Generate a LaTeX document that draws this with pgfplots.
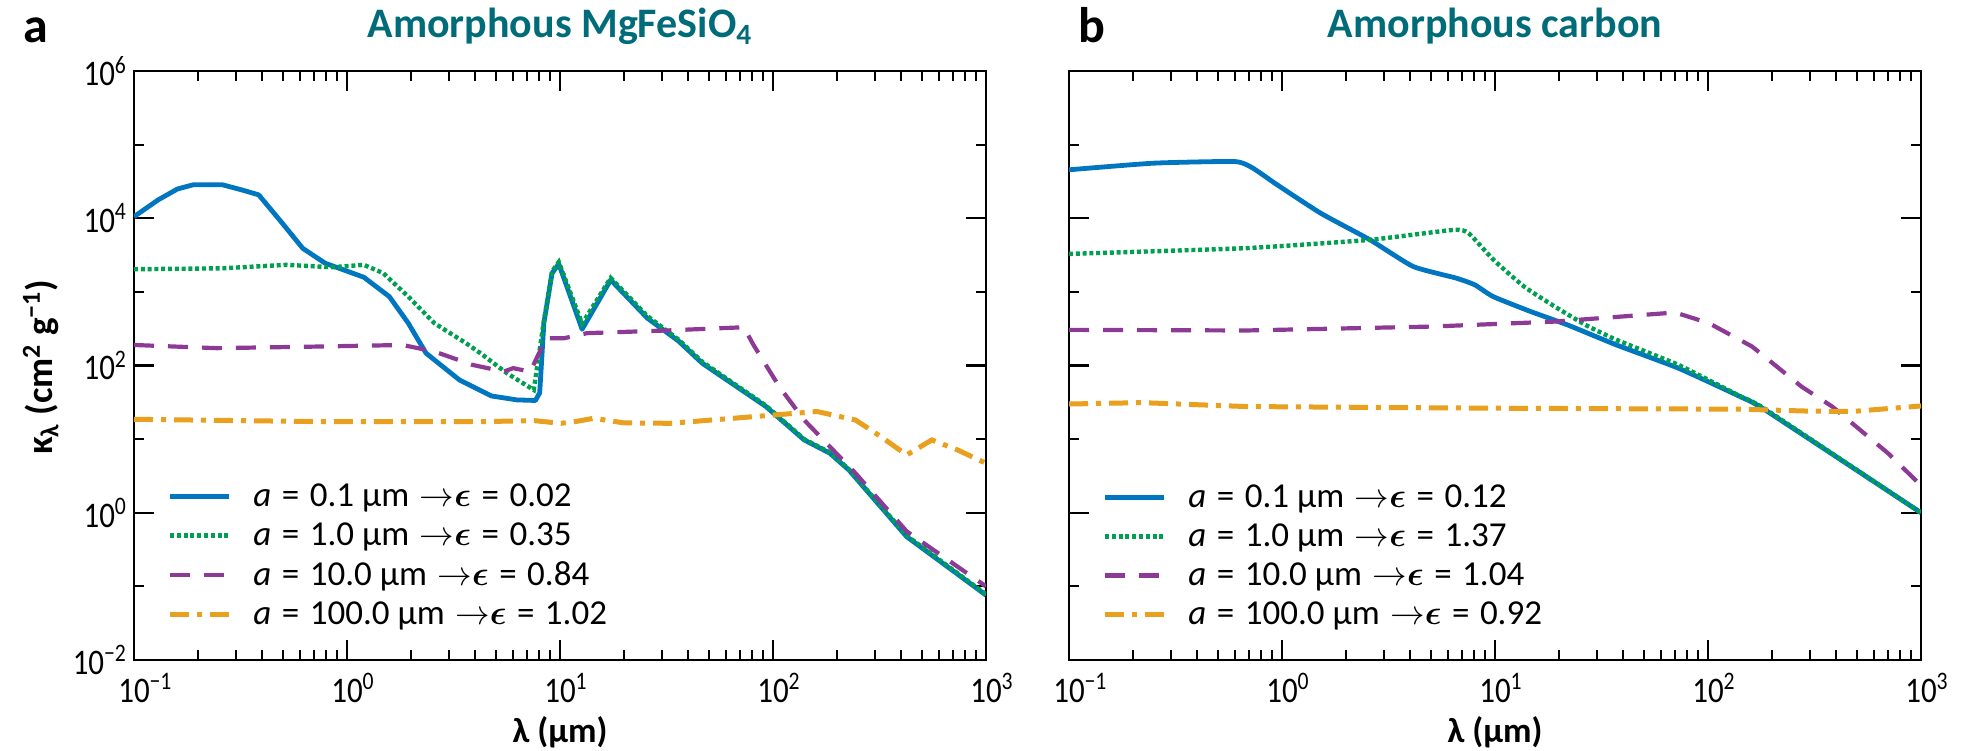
\documentclass[border=0pt]{standalone}
\usepackage{amsmath}
\usepackage{fontspec}
\setmainfont{Carlito}
\newfontfamily\condfont{Carlito}[FakeStretch=0.86]
\usepackage{pgfplots}
\pgfplotsset{compat=1.18}

\definecolor{cblue}{RGB}{0,118,192}
\definecolor{cgreen}{RGB}{0,160,80}
\definecolor{cpurple}{RGB}{140,58,150}
\definecolor{corange}{RGB}{232,160,30}
\definecolor{cteal}{RGB}{0,108,122}

\newcommand{\eqs}{\hspace{0.3em}=\hspace{0.3em}}
\newcommand{\arr}{\hspace{0.3em}${\rightarrow}{\boldsymbol{\epsilon}}$}
\newcommand{\tlx}[1]{{\condfont\fontsize{18}{20}\selectfont 10\rlap{\textsuperscript{#1}}}}
\newcommand{\tly}[1]{{\condfont\fontsize{18}{20}\selectfont 10\textsuperscript{#1}}}

\tikzset{
  sblue/.style={cblue, line width=2.4pt, line join=round},
  sgreen/.style={cgreen, line width=2.2pt, dash pattern=on 2pt off 1.4pt},
  spurple/.style={cpurple, line width=2.1pt, dash pattern=on 10pt off 7pt},
  sorange/.style={corange, line width=2.5pt, dash pattern=on 9.5pt off 4pt on 2.5pt off 4pt},
}
\pgfplotsset{
  every axis/.append style={
    scale only axis, width=426pt, height=294.5pt,
    xmin=0.1, xmax=1000, ymin=1e-2, ymax=1e6,
    xtick={0.1,1,10,100,1000},
    xticklabels={\tlx{−1},\tlx{0},\tlx{1},\tlx{2},\tlx{3}},
    minor xtick={0.2,0.3,0.4,0.5,0.6,0.7,0.8,0.9,2,3,4,5,6,7,8,9,20,30,40,50,60,70,80,90,200,300,400,500,600,700,800,900},
    ytick={1e-2,1,1e2,1e4,1e6},
    minor ytick={1e-1,1e1,1e3,1e5},
    tick align=inside,
    major tick length=10pt, minor tick length=5pt,
    axis line style={line width=1.3pt},
    tick style={black, line width=1.1pt},
    xticklabel style={anchor=base, yshift=-21pt},
    xlabel style={font=\bfseries\fontsize{17.5}{20}\selectfont, at={(axis description cs:0.5,-0.1409)}, anchor=base},
    title style={font=\bfseries\fontsize{21}{24}\selectfont, text=cteal, at={(axis description cs:0.5,1.0357)}, anchor=base},
    legend cell align=left,
    legend style={draw=none, fill=none, inner sep=0pt, column sep=9pt, row sep=2.6pt,
      font=\fontsize{17.5}{19}\selectfont, anchor=south west,
      at={(axis description cs:0.0388,0.048)}},
  },
  legend image code/.code={\draw[#1] (0pt,0pt) -- (29.5pt,0pt);},
}

\begin{document}
\begin{tikzpicture}
\path[use as bounding box] (-67pt,-45pt) rectangle (917pt,330pt);

\begin{loglogaxis}[name=L, at={(0pt,0pt)}, anchor=south west,
  yticklabels={\tly{−2},\tly{0},\tly{2},\tly{4},\tly{6}},
  xlabel={λ (μm)},
  ylabel={κ\textsubscript{λ} (cm\textsuperscript{2} g\textsuperscript{−1})},
  ylabel style={font=\bfseries\fontsize{18.5}{22}\selectfont, at={(axis description cs:-0.1093,0.497)}, anchor=center},
  title={Amorphous MgFeSiO\textsubscript{4}}]
\addplot[sblue] coordinates {
(0.1,10500) (0.13,17800) (0.16,25000) (0.19,28500) (0.26,28500) (0.32,24300) (0.385,20800)
(0.49,9000) (0.62,3900) (0.79,2450) (1.2,1580) (1.58,863) (1.94,376) (2.35,147)
(3.37,63.7) (4.76,38.6) (6.28,34.1) (7.67,33.5) (8.03,42.5) (8.4,376) (9.18,1795)
(9.87,2400) (12.7,311) (17.3,1455) (25.7,440) (36,215) (46.6,107) (92.7,27.7)
(140,9.75) (185,6.43) (227,3.82) (424,0.474) (1000,0.076)};
\addlegendentry{\textit{a}\eqs 0.1 μm\arr\eqs 0.02}
\addplot[sgreen] coordinates {
(0.1,2030) (0.26,2090) (0.52,2330) (0.85,2160) (1.2,2330) (1.48,1795) (1.94,863)
(2.57,376) (3.62,201) (4.23,147) (5.64,78.5) (7.53,46.6) (8.4,400) (9.18,1900)
(9.87,2550) (12.7,370) (17.3,1550) (25.7,470) (36,225) (46.6,112) (92.7,28.5)
(140,10) (185,6.6) (227,3.9) (424,0.49) (1000,0.078)};
\addlegendentry{\textit{a}\eqs 1.0 μm\arr\eqs 0.35}
\addplot[spurple] coordinates {
(0.1,190) (0.245,172) (0.74,181) (1.82,190) (2.57,155) (3.88,102) (5.44,82.6)
(6.03,92) (7.25,82.6) (8.1,162) (8.55,234) (10.4,234) (13.4,275) (31.7,299)
(73,331) (81,190) (107,51.6) (140,18.2) (244,3.44) (424,0.56) (1000,0.1)};
\addlegendentry{\textit{a}\eqs 10.0 μm\arr\eqs 0.84}
\addplot[sorange] coordinates {
(0.1,18.6) (0.74,17.3) (4.23,17.3) (7.6,17.8) (10.1,16.4) (11.8,17.3) (14.4,19.2)
(20,16.6) (33,16.4) (81,20.2) (161,23.7) (244,18.2) (321,10.8) (424,6.1)
(557,9.75) (735,7.13) (1000,4.71)};
\addlegendentry{\textit{a}\eqs 100.0 μm\arr\eqs 1.02}
\end{loglogaxis}

\begin{loglogaxis}[name=R, at={(467.5pt,0pt)}, anchor=south west,
  yticklabels={},
  xlabel={λ (μm)},
  title={Amorphous carbon}]
\addplot[sblue, smooth, tension=0.3] coordinates {
(0.1,45500) (0.25,56000) (0.6,58900) (0.73,47900) (0.95,28400) (1.52,11700)
(2.59,5090) (4.13,2210) (6.59,1535) (8.04,1245) (9.8,863) (14.7,541) (21.9,356)
(37.2,190) (72.6,92) (141,38) (185,25) (1000,1.0)};
\addlegendentry{\textit{a}\eqs 0.1 μm\arr\eqs 0.12}
\addplot[sgreen, smooth, tension=0.3] coordinates {
(0.1,3280) (0.68,3930) (2.58,5090) (6.37,6950) (7.52,6270) (9.84,2720) (13.7,1180)
(19.1,631) (26.6,356) (37.2,223) (72.6,102) (141,38.5) (185,25.7) (1000,1.0)};
\addlegendentry{\textit{a}\eqs 1.0 μm\arr\eqs 1.37}
\addplot[spurple] coordinates {
(0.1,305) (0.68,299) (5.05,338) (19.1,395) (70.1,525) (101,376) (161,181)
(275,51.6) (383,27.7) (700,6.43) (1000,2.35)};
\addlegendentry{\textit{a}\eqs 10.0 μm\arr\eqs 1.04}
\addplot[sorange] coordinates {
(0.1,30) (0.22,31.3) (0.68,27.7) (9.84,26.3) (141,25.5) (300,24) (470,23.7) (1000,28.2)};
\addlegendentry{\textit{a}\eqs 100.0 μm\arr\eqs 0.92}
\end{loglogaxis}

\node[font=\bfseries\fontsize{25}{28}\selectfont, anchor=base west] at ([xshift=-59pt,yshift=14pt]L.north west) {a};
\node[font=\bfseries\fontsize{25}{28}\selectfont, anchor=base west] at ([xshift=1pt,yshift=14pt]R.north west) {b};
\end{tikzpicture}
\end{document}
